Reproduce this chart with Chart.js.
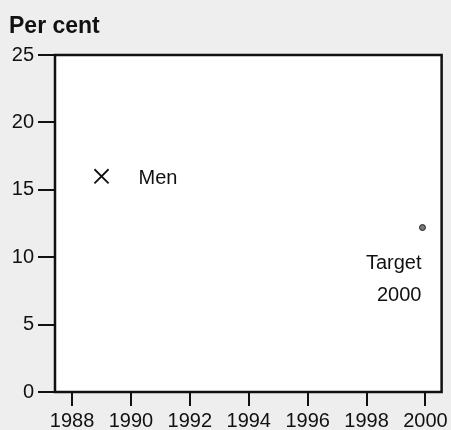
<!DOCTYPE html>
<html>
<head>
<meta charset="utf-8">
<script src="https://cdn.jsdelivr.net/npm/chart.js@4/dist/chart.umd.min.js"></script>
<style>
  html, body { margin: 0; padding: 0; background: #eeeeee; }
  #wrap { width: 451px; height: 430px; }
</style>
</head>
<body>
<div id="wrap"><canvas id="chart" width="451" height="430"></canvas></div>
<script>
// data
var xTicks = [1988, 1990, 1992, 1994, 1996, 1998, 2000];
var yTicks = [0, 5, 10, 15, 20, 25];
var menYears = [1989];
var menValues = [16];
var targetYears = [1999.9];
var targetValues = [12.2];

var FONT = "'Liberation Sans', Arial, sans-serif";

function toPoints(xs, ys) {
  return xs.map(function (x, i) {
    return { x: x, y: ys[i] };
  });
}

// white plot area, box around it, title and the text labels
var boxPlugin = {
  id: 'box',
  beforeDraw: function (chart) {
    var ctx = chart.ctx, a = chart.chartArea;
    ctx.save();
    ctx.fillStyle = '#ffffff';
    ctx.fillRect(a.left, a.top, a.right - a.left, a.bottom - a.top);
    ctx.restore();
  },
  afterDraw: function (chart) {
    var ctx = chart.ctx, a = chart.chartArea;
    var xs = chart.scales.x, ys = chart.scales.y;
    ctx.save();
    ctx.strokeStyle = '#111';
    ctx.lineWidth = 2.5;
    ctx.strokeRect(a.left, a.top, a.right - a.left, a.bottom - a.top);

    ctx.fillStyle = '#111';
    ctx.font = 'bold 23px ' + FONT;
    ctx.textBaseline = 'alphabetic';
    ctx.textAlign = 'left';
    ctx.fillText('Per cent', 9, 33);

    ctx.font = '20px ' + FONT;
    ctx.fillText('Men', xs.getPixelForValue(menYears[0]) + 37, ys.getPixelForValue(menValues[0]) + 8);

    ctx.textAlign = 'right';
    var tx = xs.getPixelForValue(targetYears[0]) - 1;
    var ty = ys.getPixelForValue(targetValues[0]);
    ctx.fillText('Target', tx, ty + 41);
    ctx.fillText('2000', tx, ty + 73);
    ctx.restore();
  }
};

new Chart('chart', {
  type: 'scatter',
  plugins: [boxPlugin],
  data: {
    datasets: [
      {
        label: 'Men',
        data: toPoints(menYears, menValues),
        pointStyle: 'crossRot',
        pointRadius: 10,
        borderColor: '#111',
        borderWidth: 1.8
      },
      {
        label: 'Target 2000',
        data: toPoints(targetYears, targetValues),
        pointStyle: 'circle',
        pointRadius: 3,
        backgroundColor: '#777',
        borderColor: '#222',
        borderWidth: 1
      }
    ]
  },
  options: {
    responsive: false,
    animation: false,
    events: [],
    layout: {
      autoPadding: false,
      padding: { top: 55, right: 8, left: 0, bottom: 0 }
    },
    plugins: {
      legend: { display: false },
      tooltip: { enabled: false }
    },
    scales: {
      x: {
        type: 'linear',
        min: 1987.42,
        max: 2000.55,
        afterFit: function (s) { s.height = 38; },
        afterBuildTicks: function (s) {
          s.ticks = xTicks.map(function (v) { return { value: v }; });
        },
        border: { display: false },
        grid: {
          drawOnChartArea: false,
          drawTicks: true,
          tickLength: 14,
          color: '#111',
          lineWidth: 2
        },
        ticks: {
          padding: 3,
          color: '#111',
          font: { family: FONT, size: 20 },
          maxRotation: 0,
          callback: function (v) { return String(v); }
        }
      },
      y: {
        min: 0,
        max: 25,
        afterFit: function (s) { s.width = 55; },
        afterBuildTicks: function (s) {
          s.ticks = yTicks.map(function (v) { return { value: v }; });
        },
        border: { display: false },
        grid: {
          drawOnChartArea: false,
          drawTicks: true,
          tickLength: 17,
          color: '#111',
          lineWidth: 2
        },
        ticks: {
          padding: 4,
          color: '#111',
          font: { family: FONT, size: 20 }
        }
      }
    }
  }
});
</script>
</body>
</html>
